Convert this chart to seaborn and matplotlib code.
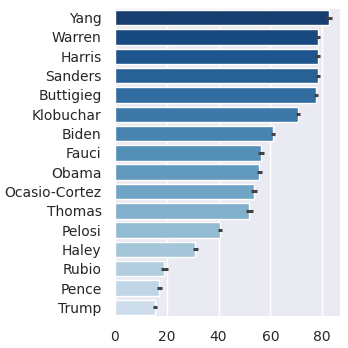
import matplotlib
matplotlib.use("Agg")
import matplotlib.pyplot as plt
import seaborn as sns
import pandas as pd

names = ["Yang", "Warren", "Harris", "Sanders", "Buttigieg", "Klobuchar", "Biden",
         "Fauci", "Obama", "Ocasio-Cortez", "Thomas", "Pelosi", "Haley", "Rubio",
         "Pence", "Trump"]
means = [82.6, 78.3, 78.3, 78.4, 77.6, 70.6, 61.0, 56.5, 55.7, 53.7, 51.8,
         40.6, 31.1, 19.1, 17.1, 15.5]
errs = [1.0, 0.9, 1.0, 0.9, 0.9, 0.8, 0.8, 1.2, 1.0, 1.0, 1.3, 0.7, 0.9, 1.4, 1.0, 0.9]

sns.set_theme(style="darkgrid")
plt.rcParams["font.family"] = ["DejaVu Sans"]
df = pd.DataFrame({"name": names, "value": means})

palette = sns.color_palette("Blues_r", 20)[:len(names)]

fig, ax = plt.subplots(figsize=(3.48, 3.48), dpi=100)
sns.barplot(data=df, x="value", y="name", hue="name", palette=palette,
            legend=False, ax=ax)
ax.errorbar(means, range(len(names)), xerr=errs, fmt="none", ecolor=".26",
            elinewidth=2.2, capsize=0)
ax.set_ylim(len(names) - 0.5, -0.5)
ax.set_xlim(0, 87.1)
ax.set_xlabel("")
ax.set_ylabel("")
ax.set_xticks([0, 20, 40, 60, 80])
ax.tick_params(labelsize=10)
fig.subplots_adjust(left=0.33, right=0.979, top=0.977, bottom=0.089)
fig.savefig("out.png", dpi=100)
